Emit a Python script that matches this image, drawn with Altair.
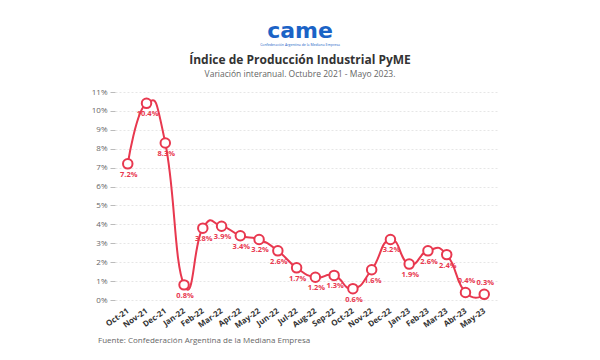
import altair as alt
import pandas as pd

months = ["Oct-21", "Nov-21", "Dec-21", "Jan-22", "Feb-22", "Mar-22", "Apr-22", "May-22",
          "Jun-22", "Jul-22", "Aug-22", "Sep-22", "Oct-22", "Nov-22", "Dec-22", "Jan-23",
          "Feb-23", "Mar-23", "Abr-23", "May-23"]
values = [7.2, 10.4, 8.3, 0.8, 3.8, 3.9, 3.4, 3.2, 2.6, 1.7, 1.2, 1.3, 0.6, 1.6, 3.2, 1.9,
          2.6, 2.4, 0.4, 0.3]
labels_above = ["Abr-23", "May-23"]

title = "Índice de Producción Industrial PyME"
subtitle = "Variación interanual. Octubre 2021 - Mayo 2023."
source = "Fuente: Confederación Argentina de la Mediana Empresa"

df = pd.DataFrame({"mes": months, "v": [x / 100 for x in values],
                   "lab": [f"{x:.1f}%" for x in values]})
df["above"] = df["mes"].isin(labels_above)

RED = "#e8384f"
FONT = "Open Sans"

x = alt.X("mes:N", sort=months, title=None,
          scale=alt.Scale(type="point", padding=0.68),
          axis=alt.Axis(labelAngle=325, labelAlign="right", labelBaseline="middle",
                        labelFontSize=8, labelFontWeight="bold", labelColor="#333",
                        labelFont=FONT, ticks=False, domain=False, grid=False,
                        labelPadding=10))
y = alt.Y("v:Q", title=None,
          scale=alt.Scale(domain=[0, 0.11], nice=False),
          axis=alt.Axis(values=[i / 100 for i in range(12)], format=".0%",
                        labelFontSize=8, labelColor="#666", labelFont=FONT,
                        tickSize=5, tickColor="#bbb", domain=False, grid=True,
                        gridColor="#e6e6e6", gridDash=[2, 2], labelPadding=3))

base = alt.Chart(df)
line = base.mark_line(color=RED, strokeWidth=2, interpolate="cardinal",
                      tension=-0.6).encode(x=x, y=y)
pts = base.mark_point(shape="circle", filled=True, fill="white", stroke=RED,
                      strokeWidth=2, size=90, opacity=1).encode(x=x, y=y)
lab_below = base.transform_filter("!datum.above").mark_text(
    color=RED, fontSize=7.5, fontWeight="bold", font=FONT, dy=11, dx=1
).encode(x=x, y=y, text="lab:N")
lab_above = base.transform_filter("datum.above").mark_text(
    color=RED, fontSize=7.5, fontWeight="bold", font=FONT, dy=-11, dx=1
).encode(x=x, y=y, text="lab:N")

one = pd.DataFrame({"a": [0]})
tb = alt.Chart(one)
t_title = tb.mark_text(text=title, fontSize=12, fontWeight="bold", color="#333",
                       font=FONT).encode(x=alt.value(185), y=alt.value(-32))
t_sub = tb.mark_text(text=subtitle, fontSize=8.5, color="#666",
                     font=FONT).encode(x=alt.value(185), y=alt.value(-18))
t_logo = tb.mark_text(text="came", fontSize=22, fontWeight="bold", color="#1b63c6",
                      font="DejaVu Sans").encode(x=alt.value(185), y=alt.value(-61))
t_logo2 = tb.mark_text(text="Confederación Argentina de la Mediana Empresa", fontSize=3.5,
                       color="#1b63c6", font=FONT).encode(x=alt.value(185), y=alt.value(-47))
t_src = tb.mark_text(text=source, fontSize=8, color="#666", font=FONT,
                     align="left").encode(x=alt.value(-17), y=alt.value(249))

chart = alt.layer(line, pts, lab_below, lab_above, t_title, t_sub, t_logo, t_logo2, t_src).properties(
    width=382, height=208,
    padding={"left": 107, "top": 84, "right": 95, "bottom": 52},
    autosize=alt.AutoSizeParams(type="none"),
    background="white",
).configure_view(stroke=None)

chart.save("out.html", embed_options={"renderer": "svg", "actions": False})
